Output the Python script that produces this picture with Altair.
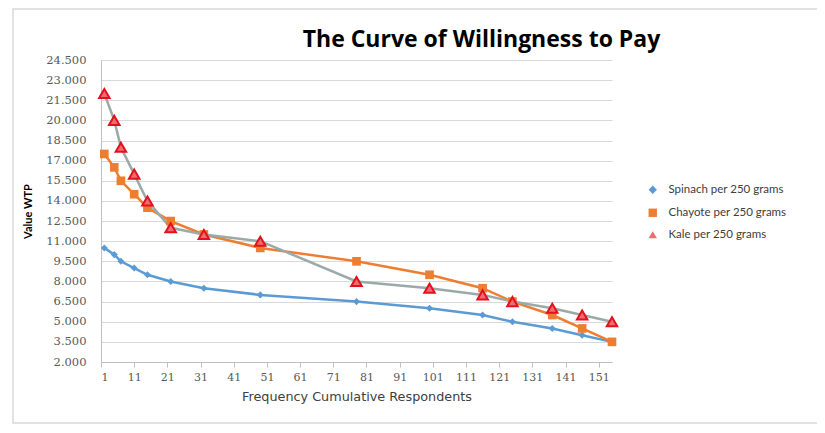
import altair as alt
import pandas as pd

respondents = [2, 5, 7, 11, 15, 22, 32, 49, 78, 100, 116, 125, 137, 146, 155]
spinach = [10.5, 10.0, 9.5, 9.0, 8.5, 8.0, 7.5, 7.0, 6.5, 6.0, 5.5, 5.0, 4.5, 4.0, 3.5]
chayote = [17.5, 16.5, 15.5, 14.5, 13.5, 12.5, 11.5, 10.5, 9.5, 8.5, 7.5, 6.5, 5.5, 4.5, 3.5]
kale = [22.0, 20.0, 18.0, 16.0, 14.0, 12.0, 11.5, 11.0, 8.0, 7.5, 7.0, 6.5, 6.0, 5.5, 5.0]

series_names = ["Spinach per 250 grams", "Chayote per 250 grams", "Kale per 250 grams"]
line_colors = ["#5b9bd5", "#ed7d31", "#9aaaa8"]
point_fills = ["#5b9bd5", "#ed7d31", "#ee6b70"]
kale_stroke = "#e3101e"
shapes = ["diamond", "square", "triangle-up"]

x_ticks = list(range(1, 152, 10))
y_ticks = [2.0 + 1.5 * i for i in range(16)]

rows = []
for name, vals in zip(series_names, [spinach, chayote, kale]):
    for n, v in zip(respondents, vals):
        rows.append({"n": n, "wtp": v, "series": name})
df = pd.DataFrame(rows)

x_enc = alt.X("n:Q", scale=alt.Scale(domain=[1, 155], nice=False, zero=False),
              axis=alt.Axis(values=x_ticks, title="Frequency Cumulative Respondents",
                            grid=False, domainColor="#bfbfbf", tickColor="#bfbfbf",
                            tickSize=5, labelFont="DejaVu Serif", labelFontSize=11,
                            labelColor="#595959", labelPadding=4,
                            titleFont="DejaVu Sans", titleFontSize=12.8,
                            titleFontWeight="normal", titleColor="#404040",
                            titlePadding=8))
y_enc = alt.Y("wtp:Q", scale=alt.Scale(domain=[2, 24.5], nice=False, zero=False),
              axis=alt.Axis(values=y_ticks, format=".3f", title="Value WTP",
                            grid=True, gridColor="#d9d9d9", domainColor="#bfbfbf",
                            ticks=False, labelFont="DejaVu Serif", labelFontSize=11.5,
                            labelColor="#595959", labelPadding=15,
                            titleFont="Lato", titleFontSize=11, titleFontWeight="bold",
                            titleColor="#000000", titlePadding=12))

kale_test = "datum.series === 'Kale per 250 grams'"
legend = alt.Legend(title=None, orient="none", legendX=546, legendY=124)

line_layers = [
    alt.Chart(df).transform_filter(alt.datum.series == name)
    .mark_line(strokeWidth=2.5, interpolate="linear", stroke=col)
    .encode(x=x_enc, y=y_enc, order=alt.Order("n:Q"))
    for name, col in zip(series_names, line_colors)
]

points = alt.Chart(df).transform_calculate(
    sz="datum.series === 'Kale per 250 grams' ? 110 : "
       "(datum.series === 'Chayote per 250 grams' ? 75 : 50)"
).mark_point(filled=True, opacity=1, strokeWidth=2).encode(
    x=x_enc, y=y_enc,
    fill=alt.Fill("series:N", sort=series_names,
                  scale=alt.Scale(domain=series_names, range=point_fills),
                  legend=legend),
    shape=alt.Shape("series:N", sort=series_names,
                    scale=alt.Scale(domain=series_names, range=shapes),
                    legend=legend),
    stroke=alt.condition(kale_test, alt.value(kale_stroke), alt.value("transparent")),
    size=alt.Size("sz:Q", scale=None),
)

border = alt.Chart(alt.Data(values=[{}])).mark_rect(
    fill="transparent", stroke="#d9d9d9", strokeWidth=1.5
).encode(x=alt.value(-88), x2=alt.value(730), y=alt.value(-51), y2=alt.value(363))

chart = alt.layer(border, *line_layers, points).properties(
    width=511, height=302,
    title=alt.TitleParams("The Curve of Willingness to Pay", font="Open Sans", fontSize=23,
                          fontWeight="bold", color="#000000", anchor="middle",
                          frame="group", dx=125, offset=-44),
    autosize=alt.AutoSizeParams(type="none"),
    padding={"left": 93, "top": 52, "right": 205, "bottom": 63},
).configure_view(stroke=None).configure_legend(
    labelFont="Lato", labelFontSize=11.5, labelColor="#404040", rowPadding=8,
    symbolSize=70, labelOffset=10,
)

chart.save("out.html", embed_options={"renderer": "svg", "actions": False})
